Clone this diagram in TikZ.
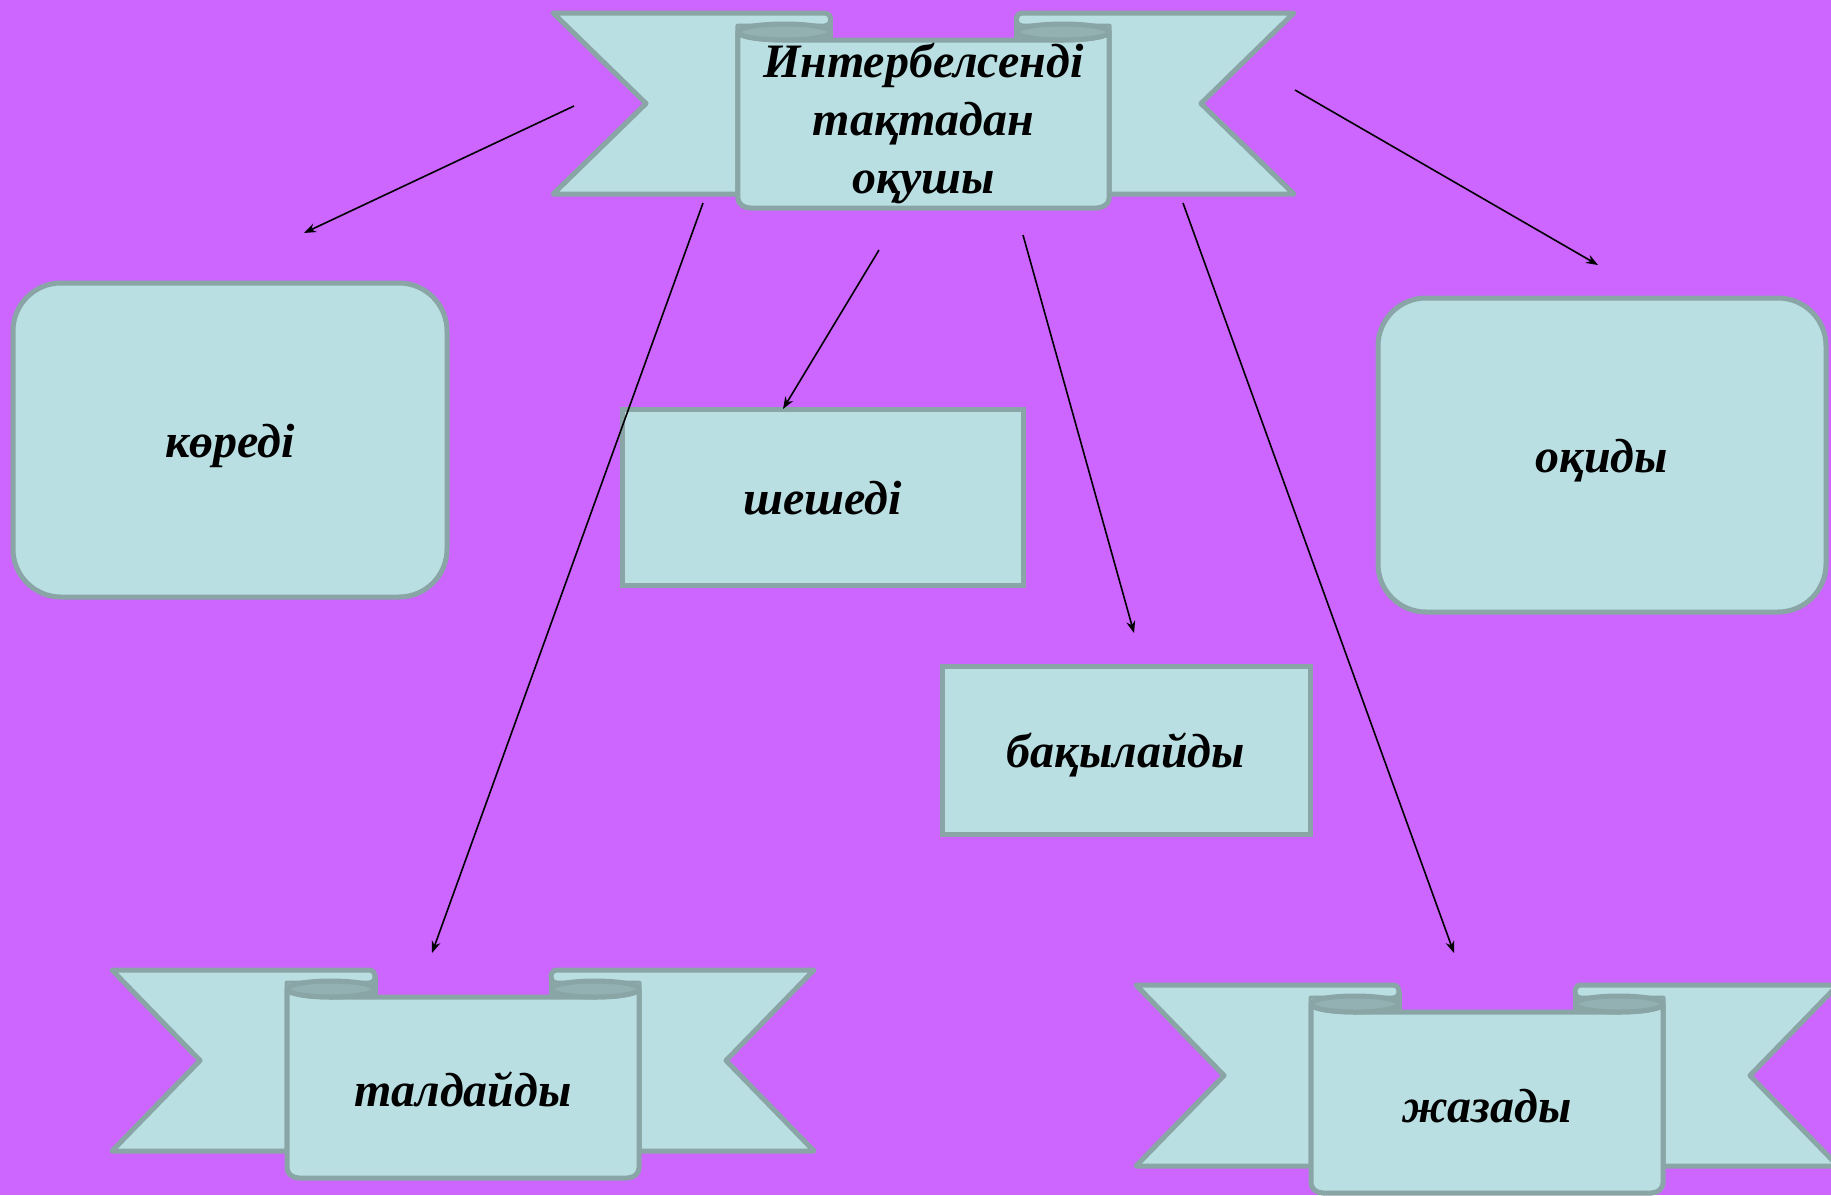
\documentclass[tikz,border=0pt]{standalone}
\usepackage{fontspec}
\setmainfont{Liberation Serif}
\usetikzlibrary{arrows.meta}
\definecolor{bgc}{HTML}{CC66FF}
\definecolor{fillc}{HTML}{BADFE2}
\definecolor{linec}{HTML}{89A5A6}
\definecolor{darkc}{HTML}{93B1B3}
\newcommand\lbl{\fontsize{48}{58}\selectfont\bfseries\itshape}
\tikzset{
 box/.style={draw=linec, fill=fillc, line width=5pt, font=\lbl, align=center, inner sep=0pt, text height=34pt, text depth=0pt},
 rbox/.style={box, rounded corners=48pt},
 ribline/.style={draw=linec, fill=fillc, line width=5pt, line join=round},
 ribtext/.style={font=\lbl, align=center, inner sep=0pt},
 conn/.style={line width=1.6pt, -{Stealth[length=12pt,width=9pt]}}
}
% #1 = bottom of the central panel (local units)
\newcommand\ribbonbody[1]{%
 \path[ribline] (-351,0) -- (-94,0) .. controls (-86,0) and (-86,13) .. (-94,13) -- (-176,13) -- (-176,181) -- (-351,181) -- (-263,90.5) -- cycle;
 \path[ribline] (351,0) -- (94,0) .. controls (86,0) and (86,13) .. (94,13) -- (176,13) -- (176,181) -- (351,181) -- (263,90.5) -- cycle;
 \fill[darkc] (-176,13) rectangle (-88,27);
 \fill[darkc] (176,13) rectangle (88,27);
 \draw[linec, line width=5pt] (-88,7) -- (-88,27);
 \draw[linec, line width=5pt] (88,7) -- (88,27);
 \path[ribline] (-176,19) -- (-176,#1-10) .. controls (-176,#1-4) and (-170,#1) .. (-164,#1) -- (164,#1) .. controls (170,#1) and (176,#1-4) .. (176,#1-10) -- (176,19) .. controls (176,23.4) and (156.3,27) .. (132,27) -- (-132,27) .. controls (-156.3,27) and (-176,23.4) .. (-176,19) -- cycle;
 \path[ribline, fill=darkc] (-132,19) ellipse [x radius=44, y radius=8];
 \path[ribline, fill=darkc] (132,19) ellipse [x radius=44, y radius=8];
}
\begin{document}
\begin{tikzpicture}[x=1pt,y=-1pt]
\fill[bgc] (0,0) rectangle (1831,1195);
\useasboundingbox (0,0) rectangle (1831,1195);
% top ribbon
\begin{scope}[shift={(923.5,13)}, xscale=1.055]
 \ribbonbody{195}
\end{scope}
\node[ribtext] (top) at (923.5,123) {Интербелсенді\\тақтадан\\оқушы};
% bottom ribbons
\begin{scope}[shift={(463,970)}]
 \ribbonbody{208}
\end{scope}
\node[ribtext] (tal) at (463,1089) {талдайды};
\begin{scope}[shift={(1487,985)}]
 \ribbonbody{208}
\end{scope}
\node[ribtext] (zhaz) at (1487,1106) {жазады};
% boxes
\node[rbox, minimum width=434pt, minimum height=314pt] (kor) at (230,440) {көреді};
\node[rbox, minimum width=448pt, minimum height=314pt] (oqi) at (1602,455) {оқиды};
\node[box, minimum width=401pt, minimum height=176pt] (shesh) at (822.5,497) {шешеді};
\node[box, minimum width=368pt, minimum height=168pt] (baq) at (1126,750) {бақылайды};
% connectors
\coordinate (s1) at (574,106); \coordinate (e1) at (304,233);
\coordinate (s2) at (703,203); \coordinate (e2) at (432,953);
\coordinate (s3) at (879,250); \coordinate (e3) at (783,409);
\coordinate (s4) at (1023,235); \coordinate (e4) at (1134,633);
\coordinate (s5) at (1183,203); \coordinate (e5) at (1454,953);
\coordinate (s6) at (1295,90); \coordinate (e6) at (1598,265);
\draw[conn] (s1) -- (e1);
\draw[conn] (s2) -- (e2);
\draw[conn] (s3) -- (e3);
\draw[conn] (s4) -- (e4);
\draw[conn] (s5) -- (e5);
\draw[conn] (s6) -- (e6);
\end{tikzpicture}
\end{document}
